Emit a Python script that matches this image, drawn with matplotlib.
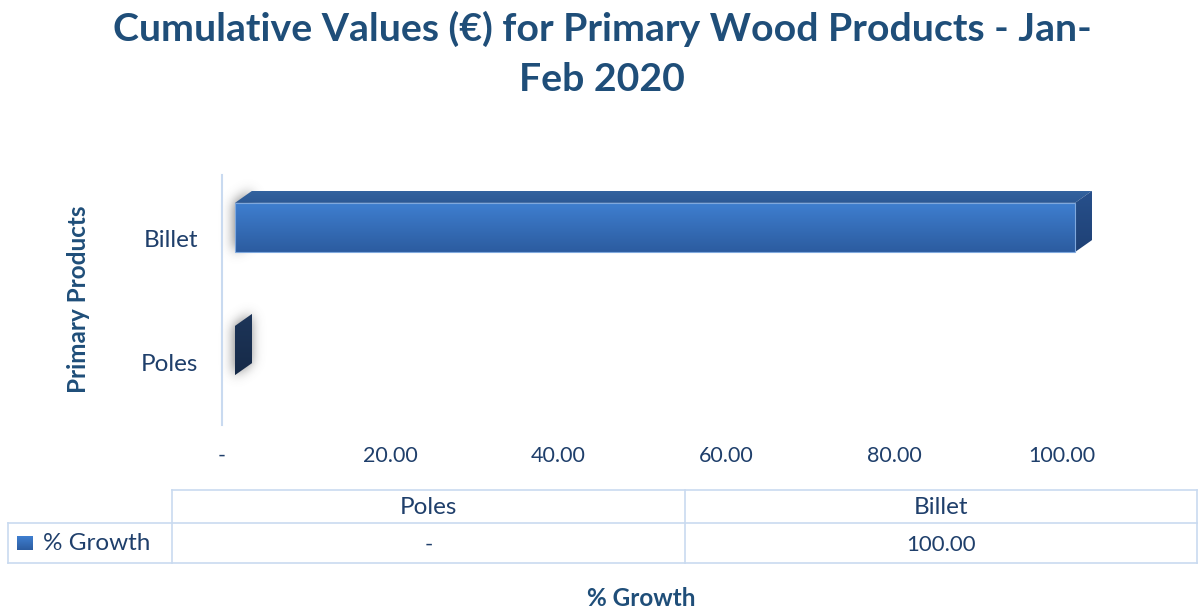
import numpy as np
import matplotlib
matplotlib.use("Agg")
import matplotlib.pyplot as plt
from matplotlib.patches import Polygon
from matplotlib.path import Path
from matplotlib.ticker import FuncFormatter

# ---------------- data ----------------
categories = ["Poles", "Billet"]
growth = [0.0, 100.0]
table_values = ["-", "100.00"]
series_name = "% Growth"
x_ticks = [0, 20, 40, 60, 80, 100]
title = "Cumulative Values (€) for Primary Wood Products - Jan-\nFeb 2020"
y_label = "Primary Products"
x_label = "% Growth"

# ---------------- style ----------------
W, H = 1199, 611
DPI = 100
FONT = ["Lato", "DejaVu Sans"]
DARK = "#1F4E79"
TXT = "#1F3F6B"
GRID = "#C9DAF0"
FS_WORD = 17.5
FS_NUM = 15.5

plt.rcParams["font.family"] = FONT

fig = plt.figure(figsize=(W / DPI, H / DPI), dpi=DPI)
fig.patch.set_facecolor("white")

# background overlay in display pixel coordinates (y up)
bg = fig.add_axes([0, 0, 1, 1], zorder=0)
bg.set_xlim(0, W)
bg.set_ylim(0, H)
bg.axis("off")

# main axes
ax_l, ax_r = 222, 1062          # pixel x of 0 and 100
ax_t, ax_b = 175, 425           # pixel y (image coords)
ax = fig.add_axes([ax_l / W, 1 - ax_b / H, (ax_r - ax_l) / W, (ax_b - ax_t) / H], zorder=1)
ax.patch.set_visible(False)
ax.set_xlim(0, 100)
ax.set_ylim(-0.512, 1.520)
ax.set_yticks(range(len(categories)))
ax.set_yticklabels(categories, fontsize=FS_WORD, color=TXT)
ax.set_xticks(x_ticks)
ax.xaxis.set_major_formatter(FuncFormatter(lambda v, p: "-" if v == 0 else f"{v:.2f}"))
for lab in ax.get_xticklabels():
    lab.set_fontsize(FS_NUM)
    lab.set_color(TXT)
ax.tick_params(axis="both", length=0)
ax.tick_params(axis="x", pad=15)
ax.tick_params(axis="y", pad=17)
for s in ["top", "right", "bottom"]:
    ax.spines[s].set_visible(False)
ax.spines["left"].set_color(GRID)
ax.spines["left"].set_linewidth(1.5)

# ---------------- 3D bars ----------------
SHIFT_X, SHIFT_Y = 13, 11.5      # front face offset (px)
DX, DY = 17, 12                  # depth offset (px)
BAR_H = 0.40                     # bar thickness in data units


def grad_poly(verts, c_top, c_bot, z):
    verts = np.asarray(verts)
    x0, x1 = verts[:, 0].min(), verts[:, 0].max()
    y0, y1 = verts[:, 1].min(), verts[:, 1].max()
    if x1 - x0 < 0.5:
        x1 = x0 + 0.5
    ct = np.array(matplotlib.colors.to_rgb(c_top))
    cb = np.array(matplotlib.colors.to_rgb(c_bot))
    t = np.linspace(0, 1, 64)[:, None]
    img = (ct * (1 - t) + cb * t)[:, None, :].repeat(2, axis=1)
    poly = Polygon(verts, closed=True, facecolor="none", edgecolor="none", transform=bg.transData)
    bg.add_patch(poly)
    im = bg.imshow(img, extent=(x0, x1, y0, y1), origin="upper", aspect="auto",
                   interpolation="bilinear", zorder=z)
    im.set_clip_path(poly)


def blur_shadow(verts, sigma=6.0, alpha=0.6, z=1):
    verts = np.asarray(verts)
    pad = int(4 * sigma)
    x0 = int(np.floor(verts[:, 0].min())) - pad
    x1 = int(np.ceil(verts[:, 0].max())) + pad
    y0 = int(np.floor(verts[:, 1].min())) - pad
    y1 = int(np.ceil(verts[:, 1].max())) + pad
    xs = np.arange(x0, x1) + 0.5
    ys = np.arange(y0, y1) + 0.5
    XX, YY = np.meshgrid(xs, ys)
    mask = Path(verts).contains_points(np.c_[XX.ravel(), YY.ravel()]).reshape(XX.shape).astype(float)
    k = np.arange(-pad, pad + 1)
    g = np.exp(-0.5 * (k / sigma) ** 2)
    g /= g.sum()
    mask = np.apply_along_axis(lambda r: np.convolve(r, g, mode="same"), 1, mask)
    mask = np.apply_along_axis(lambda c: np.convolve(c, g, mode="same"), 0, mask)
    rgba = np.zeros(mask.shape + (4,))
    rgba[..., :3] = 0.42
    rgba[..., 3] = np.clip(mask / max(mask.max(), 1e-9), 0, 1) * alpha
    bg.imshow(rgba, extent=(x0, x1, y0, y1), origin="lower", aspect="auto",
              interpolation="bilinear", zorder=z)


for i, (cat, val) in enumerate(zip(categories, growth)):
    (xl, yb) = ax.transData.transform((0, i - BAR_H / 2))
    (xr, yt) = ax.transData.transform((val, i + BAR_H / 2))
    xl += SHIFT_X; xr += SHIFT_X; yb += SHIFT_Y; yt += SHIFT_Y
    # soft shadow at the left end
    left_end = [(xl - 1, yb), (xl - 1, yt), (xl + DX - 1, yt + DY), (xl + DX - 1, yb + DY)]
    blur_shadow(left_end, sigma=6.0, alpha=0.75, z=1)
    if xr - xl > 1:
        front = [(xl, yb), (xr, yb), (xr, yt), (xl, yt)]
        top = [(xl, yt), (xr, yt), (xr + DX, yt + DY), (xl + DX, yt + DY)]
        grad_poly(front, "#3F7FD0", "#2C5CA0", 3)
        grad_poly(top, "#33639F", "#2C5894", 3)
        bg.add_patch(Polygon(front, closed=True, fill=False, edgecolor="#7FA8DD", lw=0.8, zorder=4))
        side_c = ("#27508C", "#1F4175")
    else:
        side_c = ("#1D3559", "#162A48")
    side = [(xr, yb), (xr, yt), (xr + DX, yt + DY), (xr + DX, yb + DY)]
    grad_poly(side, side_c[0], side_c[1], 3)

# ---------------- title & axis labels ----------------
fig.text(0.502, 1 - 54 / H, title, ha="center", va="center", fontsize=28.3,
         fontweight="bold", color=DARK, linespacing=1.5)
fig.text(641 / W, 1 - 598 / H, x_label, ha="center", va="center", fontsize=17.5,
         fontweight="bold", color=DARK)
fig.text(78 / W, 1 - 299 / H, y_label, ha="center", va="center", rotation=90,
         fontsize=17.5, fontweight="bold", color=DARK)

# ---------------- data table ----------------
def px(x, y):
    return x, H - y

tab_l, tab_r = 172, 1197
row_t, row_m, row_b = 490, 523, 563
leg_l = 8
ncol = len(categories)
col_edges = np.linspace(tab_l, tab_r, ncol + 1)
lw = 1.2
bg.plot(*zip(px(tab_l, row_t), px(tab_r, row_t)), color=GRID, lw=lw, zorder=2)
bg.plot(*zip(px(leg_l, row_m), px(tab_r, row_m)), color=GRID, lw=lw, zorder=2)
bg.plot(*zip(px(leg_l, row_b), px(tab_r, row_b)), color=GRID, lw=lw, zorder=2)
for xe in col_edges:
    bg.plot(*zip(px(xe, row_t), px(xe, row_b)), color=GRID, lw=lw, zorder=2)
bg.plot(*zip(px(leg_l, row_m), px(leg_l, row_b)), color=GRID, lw=lw, zorder=2)

for j, (cat, tv) in enumerate(zip(categories, table_values)):
    cx = (col_edges[j] + col_edges[j + 1]) / 2
    bg.text(*px(cx, 507), cat, ha="center", va="center", fontsize=FS_WORD, color=TXT)
    bg.text(*px(cx, 545), tv, ha="center", va="center", fontsize=FS_NUM + 0.5, color=TXT)

# legend key
grad_poly([px(17, 550), px(33, 550), px(33, 536), px(17, 536)], "#3F7FD0", "#2C5CA0", 3)
bg.text(*px(43, 544), series_name, ha="left", va="center", fontsize=FS_WORD, color=TXT)

fig.savefig("out.png", dpi=DPI, facecolor="white")
